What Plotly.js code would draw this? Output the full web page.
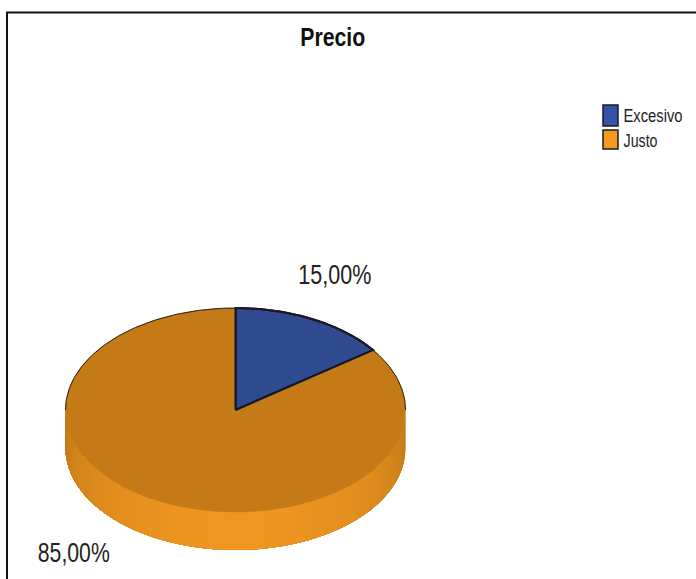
<!DOCTYPE html>
<html>
<head>
<meta charset="utf-8">
<script src="https://cdn.plot.ly/plotly-3.0.1.min.js"></script>
<style>html,body{margin:0;padding:0;background:#fff}#chart{width:696px;height:579px}</style>
</head>
<body>
<div id="chart"></div>
<script>
// Share of answers per price opinion
const categories = ['Excesivo', 'Justo'];
const shares = [15, 85];
const topColors = ['#2f4a8e', '#c47a17'];
const legendColors = ['#3553a6', '#f59a1e'];
const chartTitle = 'Precio';

// Disc geometry, in plot units (the axes run in pixels)
const cx = 235.5, cy = 410, rx = 170, ry = 102, depth = 38;

const rimX = a => cx + rx * Math.sin(a);
const rimY = a => cy - ry * Math.cos(a);
const total = shares.reduce((s, v) => s + v, 0);
const toAngle = v => v / total * 2 * Math.PI;

function arc(a0, a1, steps) {
  const xs = [], ys = [];
  for (let i = 0; i <= steps; i++) {
    const a = a0 + (a1 - a0) * i / steps;
    xs.push(rimX(a)); ys.push(rimY(a));
  }
  return {xs, ys};
}

const traces = [];

// Wall of the disc, lightest facing the viewer. Each layer runs to the far
// end of the wall and the next one paints over it, so no seams show.
function wallColor(a) {
  const t = Math.pow(Math.max(0, Math.cos(a - Math.PI)), 0.9);
  const dark = [190, 120, 22], light = [238, 150, 32];
  const c = dark.map((d, i) => Math.round(d + (light[i] - d) * t));
  return `rgb(${c[0]},${c[1]},${c[2]})`;
}
const strips = 70;
const wallEnd = 3 * Math.PI / 2;
for (let i = 0; i < strips; i++) {
  const a0 = Math.PI / 2 + Math.PI * i / strips;
  const seg = arc(a0, wallEnd, 60);
  const col = wallColor(a0 + Math.PI / strips / 2);
  traces.push({
    type: 'scatter', mode: 'lines', hoverinfo: 'skip', showlegend: false,
    x: seg.xs.concat(seg.xs.slice().reverse()),
    y: seg.ys.map(y => y + depth).concat(seg.ys.slice().reverse()),
    fill: 'toself', fillcolor: col, line: {color: col, width: 0}
  });
}

// Top face: one wedge per category, clockwise from twelve o'clock
let start = 0;
categories.forEach((name, i) => {
  const end = start + toAngle(shares[i]);
  const seg = arc(start, end, 180);
  const first = i === 0;
  traces.push({
    type: 'scatter', mode: 'lines', name, hoverinfo: 'name', showlegend: false,
    x: [cx].concat(seg.xs, [cx]),
    y: [cy].concat(seg.ys, [cy]),
    fill: 'toself', fillcolor: topColors[i],
    line: first ? {color: '#10152a', width: 2} : {color: topColors[i], width: 0.5}
  });
  start = end;
});

// Blue wedge goes back on top so its outline stays whole
const wedge = arc(0, toAngle(shares[0]), 60);
traces.push({
  type: 'scatter', mode: 'lines', hoverinfo: 'skip', showlegend: false,
  x: [cx].concat(wedge.xs, [cx]),
  y: [cy].concat(wedge.ys, [cy]),
  line: {color: '#10152a', width: 2}
});

// Dark outline along the far half of the rim
const rim = arc(-Math.PI / 2, Math.PI / 2, 180);
traces.push({
  type: 'scatter', mode: 'lines', hoverinfo: 'skip', showlegend: false,
  x: rim.xs, y: rim.ys, line: {color: '#2a1c10', width: 1}
});

const percentText = v => (v / total * 100).toFixed(2).replace('.', ',') + '%';

// Text slots: centre x, centre y, drawn width
const titleSlot = [332.5, 37, 65];
const labelSlots = [[334.5, 275, 73], [74, 553, 72]];
const legendSlots = [[652.5, 116, 59], [640, 141, 34]];
const legendRows = [[105, 126], [130, 149]];
const fontFamily = '"Liberation Sans", Arial, sans-serif';

const annotations = [{
  xref: 'x', yref: 'y', x: titleSlot[0], y: titleSlot[1], text: '<b>' + chartTitle + '</b>',
  showarrow: false, font: {family: fontFamily, size: 26, color: '#111'}
}];
const widths = [titleSlot[2]];
const shapes = [
  {type: 'line', xref: 'x', yref: 'y', x0: 7, x1: 7, y0: 12, y1: 579, line: {color: '#111', width: 2}},
  {type: 'line', xref: 'x', yref: 'y', x0: 6, x1: 696, y0: 12.5, y1: 12.5, line: {color: '#111', width: 2}}
];

categories.forEach((name, i) => {
  annotations.push({
    xref: 'x', yref: 'y', x: labelSlots[i][0], y: labelSlots[i][1], text: percentText(shares[i]),
    showarrow: false, font: {family: fontFamily, size: 27, color: '#222'}
  });
  widths.push(labelSlots[i][2]);
  annotations.push({
    xref: 'x', yref: 'y', x: legendSlots[i][0], y: legendSlots[i][1], text: name,
    showarrow: false, font: {family: fontFamily, size: 18, color: '#222'}
  });
  widths.push(legendSlots[i][2]);
  shapes.push({
    type: 'rect', xref: 'x', yref: 'y', x0: 603, x1: 618, y0: legendRows[i][0], y1: legendRows[i][1],
    fillcolor: legendColors[i], line: {color: '#1a1a2a', width: 1.5}
  });
});

const hidden = {visible: false, fixedrange: true};
Plotly.newPlot('chart', traces, {
  width: 696, height: 579,
  margin: {l: 0, r: 0, t: 0, b: 0},
  paper_bgcolor: '#fff', plot_bgcolor: '#fff',
  xaxis: Object.assign({range: [0, 696]}, hidden),
  yaxis: Object.assign({range: [579, 0]}, hidden),
  showlegend: false,
  annotations, shapes
}, {displayModeBar: false, staticPlot: true}).then(gd => {
  // The typeface is set condensed: squeeze each text to its slot width
  gd.querySelectorAll('.annotation-text').forEach((t, i) => {
    t.setAttribute('textLength', widths[i]);
    t.setAttribute('lengthAdjust', 'spacingAndGlyphs');
  });
});
</script>
</body>
</html>
